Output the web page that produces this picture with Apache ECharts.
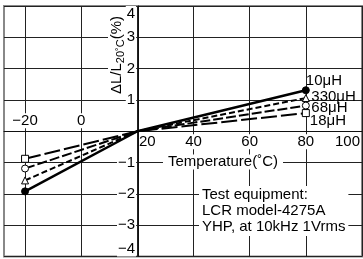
<!DOCTYPE html>
<html>
<head>
<meta charset="utf-8">
<script src="https://cdn.jsdelivr.net/npm/echarts@6/dist/echarts.min.js"></script>
<style>
  html, body { margin: 0; padding: 0; background: #fff; }
  #chart { width: 363px; height: 259px; }
</style>
</head>
<body>
<div id="chart"></div>
<script>
  // 温度特性 (ΔL/L20°C)
  const temps = [-20, 20, 80];
  const names = ['10μH', '330μH', '68μH', '18μH'];
  const l10 = [-1.92, 0, 1.31];
  const l330 = [-1.57, 0, 1.06];
  const l68 = [-1.19, 0, 0.82];
  const l18 = [-0.88, 0, 0.58];
  const xTicks = [-20, 0, 20, 40, 60, 80, 100];
  const xLabelsTop = [-20, 0];
  const xLabelsBottom = [20, 40, 60, 80, 100];

  const FONT = 'Liberation Sans, Arial, sans-serif';
  const xMin = -27.5, xMax = 100;
  const yMin = -4, yMax = 4;
  const gridLeft = 4, gridRight = -1, gridTop = 6, gridBottom = 2.5;
  const W = 363, H = 259;
  const gridWidth = W - gridLeft - gridRight;
  const gridHeight = H - gridTop - gridBottom;
  // y轴放在 20℃ 处, x轴放在 0% 处
  const yOffset = -(20 - xMin) / (xMax - xMin) * gridWidth;
  const xOffset = -(0 - yMin) / (yMax - yMin) * gridHeight;

  const minus = v => String(v).replace('-', '\u2212');

  const styles = [
    { type: 'solid', width: 2.5, symbol: 'circle', fill: '#000', off: [-4, -9] },
    { type: [6, 3], width: 2, symbol: 'triangle', fill: '#fff', off: [1.5, -1] },
    { type: [10, 3], width: 2, symbol: 'circle', fill: '#fff', off: [1.5, 2] },
    { type: [16, 4], width: 2, symbol: 'rect', fill: '#fff', off: [0, 8] }
  ];
  const values = [l10, l330, l68, l18];

  const series = values.map((vals, i) => {
    const st = styles[i];
    return {
      name: names[i],
      type: 'line',
      xAxisIndex: 0,
      yAxisIndex: 0,
      symbol: st.symbol,
      symbolSize: 7,
      itemStyle: { color: st.fill, borderColor: '#000', borderWidth: 1 },
      lineStyle: { color: '#000', width: st.width, type: st.type },
      z: 5 - i,
      data: temps.map((t, k) => {
        const item = { value: [t, vals[k]] };
        if (k === 1) item.symbol = 'none';
        if (k === temps.length - 1) {
          item.label = {
            show: true,
            position: 'right',
            distance: 0,
            offset: st.off,
            formatter: names[i],
            fontFamily: FONT,
            fontSize: 15,
            color: '#000'
          };
        }
        return item;
      })
    };
  });

  const chart = echarts.init(document.getElementById('chart'));
  chart.setOption({
    animation: false,
    backgroundColor: '#fff',
    grid: {
      left: gridLeft, right: gridRight, top: gridTop, bottom: gridBottom,
      show: true, borderColor: '#888', borderWidth: 2, containLabel: false
    },
    xAxis: [{
      type: 'value',
      position: 'bottom',
      offset: xOffset,
      min: xMin, max: xMax,
      axisLine: { show: true, onZero: false, lineStyle: { color: '#111', width: 1 } },
      axisTick: { show: false, customValues: xTicks },
      splitLine: { show: true, lineStyle: { color: '#222', width: 1 } },
      axisLabel: {
        customValues: xLabelsBottom,
        margin: 3,
        fontFamily: FONT, fontSize: 15, color: '#000',
        formatter: v => v === 20 ? '{r|20}' : (v === 100 ? '{e|100}' : '{n|' + v + '}'),
        rich: {
          n: { fontFamily: FONT, fontSize: 15, color: '#000', backgroundColor: '#fff', padding: [0, 1] },
          r: { fontFamily: FONT, fontSize: 15, color: '#000', padding: [0, 0, 0, 20] },
          e: { fontFamily: FONT, fontSize: 15, color: '#000', padding: [0, 29, 0, 0] }
        }
      }
    }, {
      type: 'value',
      position: 'top',
      offset: xOffset,
      min: xMin, max: xMax,
      axisLine: { show: false, onZero: false },
      axisTick: { show: false, customValues: xLabelsTop },
      splitLine: { show: false },
      axisLabel: {
        customValues: xLabelsTop,
        margin: 3,
        fontFamily: FONT, fontSize: 15, color: '#000',
        backgroundColor: '#fff', padding: [0, 1],
        formatter: v => minus(v)
      }
    }],
    yAxis: {
      type: 'value',
      position: 'left',
      offset: yOffset,
      min: yMin, max: yMax, interval: 1,
      axisLine: { show: true, onZero: false, lineStyle: { color: '#111', width: 1 } },
      axisTick: { show: false },
      splitLine: { show: true, lineStyle: { color: '#222', width: 1 } },
      axisLabel: {
        margin: 2,
        fontFamily: FONT, fontSize: 15, color: '#000',
        backgroundColor: '#fff', padding: [0, 1],
        verticalAlignMaxLabel: 'top',
        verticalAlignMinLabel: 'bottom',
        formatter: v => v === 0 ? '' : minus(v)
      }
    },
    graphic: [{
      type: 'text',
      x: 117, y: 55,
      rotation: Math.PI / 2,
      z: 10,
      style: {
        text: '{a|ΔL/L}{s|20˚C}{a|(%)}',
        align: 'center', verticalAlign: 'middle',
        backgroundColor: '#fff',
        rich: {
          a: { fontFamily: FONT, fontSize: 15, lineHeight: 18, fill: '#000' },
          s: { fontFamily: FONT, fontSize: 11, lineHeight: 12, verticalAlign: 'bottom', fill: '#000' }
        }
      }
    }, {
      type: 'text',
      x: 223, y: 162,
      z: 10,
      style: {
        text: 'Temperature(˚C)',
        fontFamily: FONT, fontSize: 15, fill: '#000',
        align: 'center', verticalAlign: 'middle',
        backgroundColor: '#fff', padding: [0, 5]
      }
    }, {
      type: 'text',
      x: 199, y: 186,
      z: 10,
      style: {
        text: 'Test equipment:\nLCR model-4275A\nYHP, at 10kHz 1Vrms',
        fontFamily: FONT, fontSize: 15, lineHeight: 16, fill: '#000',
        backgroundColor: '#fff', padding: [1, 3]
      }
    }],
    series: series
  });
</script>
</body>
</html>
